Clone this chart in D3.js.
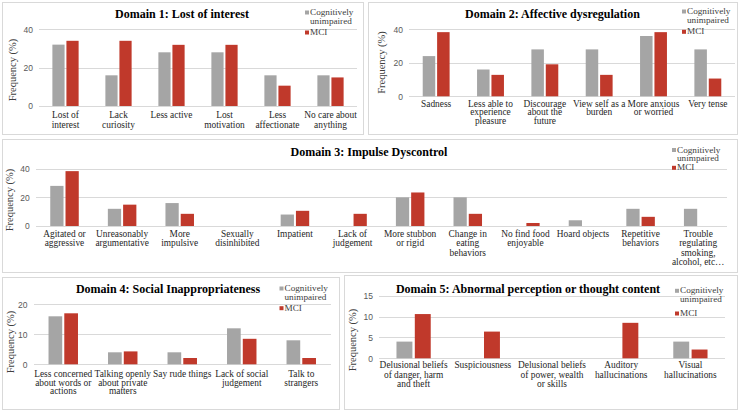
<!DOCTYPE html>
<html>
<head>
<meta charset="utf-8">
<script src="https://cdn.jsdelivr.net/npm/d3@7"></script>
<style>
  body { margin: 0; background: #fff; }
</style>
</head>
<body>
<script>
// series names
var seriesNames = ["Cognitively unimpaired", "MCI"];

// Domain 1
var d1Title = "Domain 1: Lost of interest";
var d1Cats = ["Lost of\ninterest", "Lack\ncuriosity", "Less active", "Lost\nmotivation", "Less\naffectionate", "No care about\nanything"];
var d1Cu = [32, 16, 28, 28, 16, 16];
var d1Mci = [34, 34, 31.9, 31.9, 10.6, 14.9];
var d1Ticks = [0, 20, 40];

// Domain 2
var d2Title = "Domain 2: Affective dysregulation";
var d2Cats = ["Sadness", "Less able to\nexperience\npleasure", "Discourage\nabout the\nfuture", "View self as a\nburden", "More anxious\nor worried", "Very tense"];
var d2Cu = [24, 16, 28, 28, 36, 28];
var d2Mci = [38.3, 12.8, 19.1, 12.8, 38.3, 10.6];
var d2Ticks = [0, 20, 40];

// Domain 3
var d3Title = "Domain 3: Impulse Dyscontrol";
var d3Cats = ["Agitated or\naggressive", "Unreasonably\nargumentative", "More\nimpulsive", "Sexually\ndisinhibited", "Impatient", "Lack of\njudgement", "More stubbon\nor rigid", "Change in\neating\nbehaviors", "No find food\nenjoyable", "Hoard objects", "Repetitive\nbehaviors", "Trouble\nregulating\nsmoking,\nalcohol, etc\u2026"];
var d3Cu = [28, 12, 16, 0, 8, 0, 20, 20, 0, 4, 12, 12];
var d3Mci = [38.3, 14.9, 8.5, 0, 10.6, 8.5, 23.4, 8.5, 2.1, 0, 6.4, 0];
var d3Ticks = [0, 20, 40];

// Domain 4
var d4Title = "Domain 4: Social Inappropriateness";
var d4Cats = ["Less concerned\nabout words or\nactions", "Talking openly\nabout private\nmatters", "Say rude things", "Lack of social\njudgement", "Talk to\nstrangers"];
var d4Cu = [16, 4, 4, 12, 8];
var d4Mci = [17, 4.3, 2.1, 8.5, 2.1];
var d4Ticks = [0, 10, 20];

// Domain 5
var d5Title = "Domain 5: Abnormal perception or thought content";
var d5Cats = ["Delusional beliefs\nof danger, harm\nand theft", "Suspiciousness", "Delusional beliefs\nof power, wealth\nor skills", "Auditory\nhallucinations", "Visual\nhallucinations"];
var d5Cu = [4, 0, 0, 0, 4];
var d5Mci = [10.6, 6.4, 0, 8.5, 2.1];
var d5Ticks = [0, 5, 10, 15];

var colors = ["#a5a5a5", "#c0392b"];
var serif = "Liberation Serif";
var sans = "Liberation Sans";

// layout for each panel
var panels = [
  {title: d1Title, cats: d1Cats, cu: d1Cu, mci: d1Mci, ticks: d1Ticks,
   box: [2, 2, 363, 134], px: [39, 357], py: [106, 29.3],
   tx: 182, ty: 18.3, lx: 305, lb: [15, 23.5, 35], lab: 118.3, lh: 9.4, yt: [12.5, 70]},
  {title: d2Title, cats: d2Cats, cu: d2Cu, mci: d2Mci, ticks: d2Ticks,
   box: [368, 2, 737, 134], px: [409, 735], py: [96.3, 29.3],
   tx: 552.5, ty: 18.3, lx: 682, lb: [14, 23.3, 34.3], lab: 106.7, lh: 8.7, yt: [381, 62.5]},
  {title: d3Title, cats: d3Cats, cu: d3Cu, mci: d3Mci, ticks: d3Ticks,
   box: [2, 139, 737, 272], px: [35.7, 727], py: [226, 168.7],
   tx: 369, ty: 156, lx: 672, lb: [152.5, 161, 170.3], lab: 236.7, lh: 9.4, yt: [9, 200]},
  {title: d4Title, cats: d4Cats, cu: d4Cu, mci: d4Mci, ticks: d4Ticks,
   box: [2, 277, 339, 409], px: [33.5, 331], py: [364.3, 304.3],
   tx: 168, ty: 293.3, lx: 279.5, lb: [291, 299.6, 310.7], lab: 376.7, lh: 8.8, yt: [10, 342]},
  {title: d5Title, cats: d5Cats, cu: d5Cu, mci: d5Mci, ticks: d5Ticks,
   box: [344, 275, 737, 409], px: [379, 725], py: [358.3, 295.7],
   tx: 528, ty: 293.3, lx: 675, lb: [293.3, 302, 316], lab: 368.3, lh: 9.2, yt: [352.5, 340]}
];

var svg = d3.select("body").append("svg")
    .attr("width", 739)
    .attr("height", 411)
    .style("display", "block");

panels.forEach(function(p) {
  var g = svg.append("g");

  g.append("rect")
      .attr("x", p.box[0] + 0.5)
      .attr("y", p.box[1] + 0.5)
      .attr("width", p.box[2] - p.box[0])
      .attr("height", p.box[3] - p.box[1])
      .attr("fill", "#fff")
      .attr("stroke", "#d9d9d9");

  var x = d3.scaleBand().domain(p.cats).range(p.px);
  var bw = x.bandwidth();
  var barW = bw * 0.215;
  var gap = bw * 0.065;
  var xs = d3.scaleBand().domain([0, 1])
      .range([-(barW + gap / 2), barW + gap / 2])
      .paddingInner(gap / (2 * barW + gap));
  var y = d3.scaleLinear().domain([0, d3.max(p.ticks)]).range(p.py);

  // gridlines + tick labels
  var yAxis = g.append("g")
      .attr("transform", "translate(" + p.px[0] + ",0)")
      .call(d3.axisLeft(y).tickValues(p.ticks)
          .tickSize(-(p.px[1] - p.px[0]))
          .tickPadding(6)
          .tickFormat(d3.format("d")))
      .attr("font-family", sans)
      .attr("font-size", 8.5);
  yAxis.select(".domain").remove();
  yAxis.selectAll("line").attr("stroke", "#d9d9d9").attr("shape-rendering", "crispEdges");
  yAxis.selectAll("text").attr("fill", "#595959");

  // bars
  var series = [p.cu, p.mci];
  series.forEach(function(vals, si) {
    g.selectAll(".bar" + si)
        .data(p.cats)
        .enter()
        .append("rect")
        .attr("x", function(d) { return x(d) + bw / 2 + xs(si); })
        .attr("y", function(d, i) { return y(vals[i]); })
        .attr("width", xs.bandwidth())
        .attr("height", function(d, i) { return y(0) - y(vals[i]); })
        .attr("fill", colors[si]);
  });

  // category labels
  var lab = g.selectAll(".cat")
      .data(p.cats)
      .enter()
      .append("text")
      .attr("text-anchor", "middle")
      .attr("font-family", serif)
      .attr("font-size", 9.4)
      .attr("fill", "#262626");
  lab.each(function(d) {
    var t = d3.select(this);
    d.split("\n").forEach(function(line, li) {
      t.append("tspan")
          .attr("x", x(d) + bw / 2)
          .attr("y", p.lab + li * p.lh)
          .text(line);
    });
  });

  // title
  g.append("text")
      .attr("x", p.tx)
      .attr("y", p.ty)
      .attr("text-anchor", "middle")
      .attr("font-family", serif)
      .attr("font-weight", "bold")
      .attr("font-size", 12)
      .attr("fill", "#000")
      .text(p.title);

  // y axis title
  g.append("text")
      .attr("transform", "translate(" + (p.yt[0] + 3.5) + "," + p.yt[1] + ") rotate(-90)")
      .attr("text-anchor", "middle")
      .attr("font-family", serif)
      .attr("font-size", 10.5)
      .attr("fill", "#404040")
      .text("Frequency (%)");

  // legend
  var words = seriesNames[0].split(" ");
  var legendRows = [[words[0], 0, 0], [words[1], 1, -1], [seriesNames[1], 2, 1]];
  legendRows.forEach(function(r) {
    if (r[2] >= 0) {
      g.append("rect")
          .attr("x", p.lx).attr("y", p.lb[r[1]] - 4.5)
          .attr("width", 4).attr("height", 4)
          .attr("fill", colors[r[2]]);
    }
    g.append("text")
        .attr("x", p.lx + 5).attr("y", p.lb[r[1]])
        .attr("font-family", serif)
        .attr("font-size", 9.2)
        .attr("fill", "#404040")
        .text(r[0]);
  });
});
</script>
</body>
</html>
